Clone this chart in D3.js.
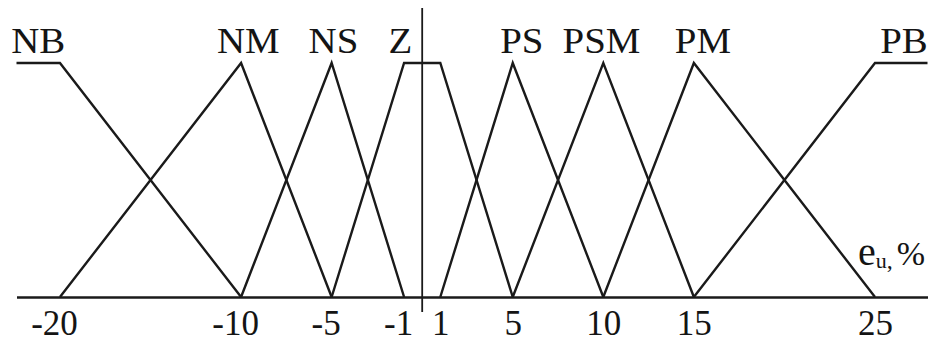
<!DOCTYPE html>
<html>
<head>
<meta charset="utf-8">
<script src="https://cdn.jsdelivr.net/npm/d3@7"></script>
<style>
  html, body { margin: 0; padding: 0; background: #fff; }
  svg { display: block; }
  text { font-family: "Liberation Serif", "Times New Roman", Times, "DejaVu Serif", serif; fill: #141414; }
</style>
</head>
<body>
<svg id="chart" width="940" height="342"></svg>
<script>
// Fuzzy sets for the error e_u, %: breakpoints (x) and membership degrees (mu)
const setNames = ["NB", "NM", "NS", "Z", "PS", "PSM", "PM", "PB"];
const setX = [
  [-22.4, -20, -10],
  [-20, -10, -5],
  [-10, -5, -1],
  [-5, -1, 1, 5],
  [1, 5, 10],
  [5, 10, 15],
  [10, 15, 25],
  [15, 25, 27.9]
];
const setMu = [
  [1, 1, 0],
  [0, 1, 0],
  [0, 1, 0],
  [0, 1, 1, 0],
  [0, 1, 0],
  [0, 1, 0],
  [0, 1, 0],
  [0, 1, 1]
];
// where each set's name sits along the axis (in % units)
const labelAt = [-21.2, -9.6, -4.9, -1.2, 5.5, 9.9, 15.5, 26.6];
const tickValues = [-20, -10, -5, -1, 1, 5, 10, 15, 25];

const svg = d3.select("#chart");
const x = d3.scaleLinear().domain([-22.4, 27.9]).range([16.5, 927.5]);
const y = d3.scaleLinear().domain([0, 1]).range([297, 63]);

// horizontal axis with tick labels
const axis = d3.axisBottom(x)
  .tickValues(tickValues)
  .tickSize(0)
  .tickSizeOuter(0)
  .tickFormat(d => d < 0 ? "-" + Math.abs(d) : String(d));

const gx = svg.append("g")
  .attr("transform", `translate(0,${y(0)})`)
  .call(axis)
  .attr("font-family", null);
gx.select(".domain").attr("stroke", "#1a1a1a").attr("stroke-width", 2.4);
gx.selectAll(".tick text")
  .attr("y", 38)
  .attr("dy", 0)
  .attr("dx", d => d < 0 ? -6 : 0)
  .attr("font-size", 35)
  .attr("fill", "#141414");

// vertical axis at e = 0
svg.append("line")
  .attr("x1", x(0)).attr("x2", x(0))
  .attr("y1", 8).attr("y2", 312)
  .attr("stroke", "#1a1a1a").attr("stroke-width", 1.8);

// membership functions
const line = d3.line().x(p => x(p[0])).y(p => y(p[1]));
svg.append("g")
  .selectAll("path")
  .data(setNames.map((n, i) => setX[i].map((v, j) => [v, setMu[i][j]])))
  .join("path")
  .attr("d", line)
  .attr("fill", "none")
  .attr("stroke", "#1a1a1a")
  .attr("stroke-width", 2.4)
  .attr("stroke-linejoin", "miter");

// set names above the peaks
svg.append("g")
  .selectAll("text")
  .data(setNames)
  .join("text")
  .attr("transform", (d, i) => `translate(${x(labelAt[i])},53) scale(1.08,1)`)
  .attr("text-anchor", "middle")
  .attr("font-size", 36)
  .text(d => d);

// axis title e_u, %
const title = svg.append("text")
  .attr("x", 858)
  .attr("y", 265);
title.append("tspan").attr("font-size", 40).text("e");
title.append("tspan").attr("font-size", 22).attr("dy", 3).text("u");
title.append("tspan").attr("font-size", 24).text(",");
title.append("tspan").attr("font-size", 34).attr("dy", -3).attr("dx", 4).text("%");
</script>
</body>
</html>
